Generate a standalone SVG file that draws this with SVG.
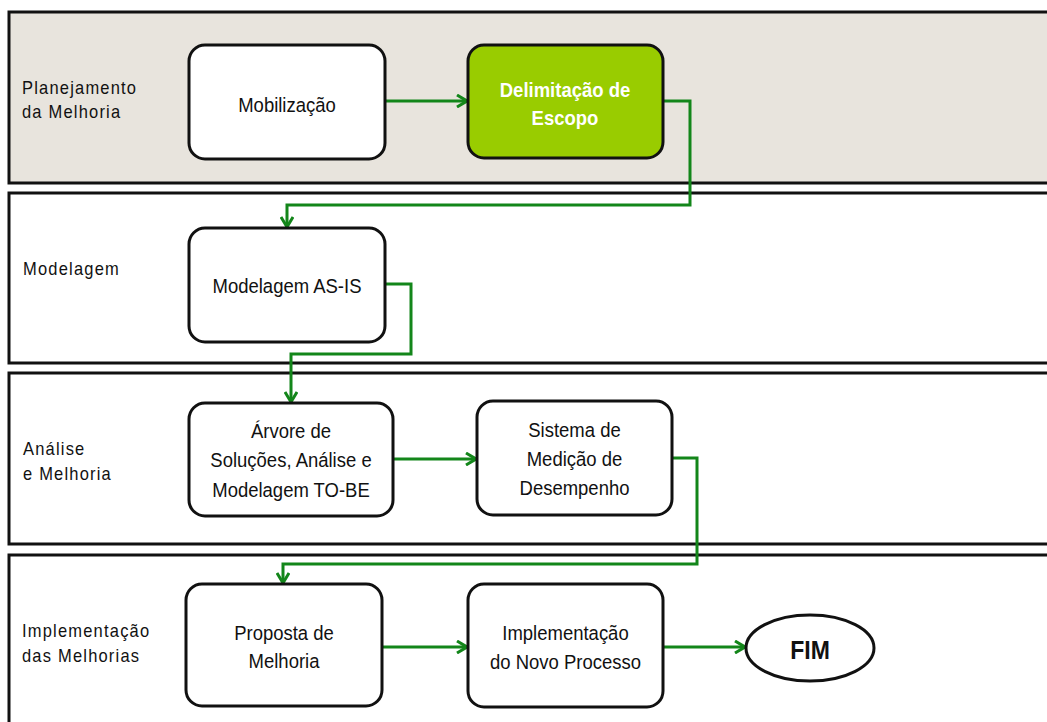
<svg xmlns="http://www.w3.org/2000/svg" width="1047" height="722" viewBox="0 0 1047 722">
<style>
.lane{stroke:#111;stroke-width:3}
.lbl{font-family:"Liberation Sans",Arial,sans-serif;font-size:16.5px;letter-spacing:1.2px;fill:#111}
.node{fill:#fff;stroke:#111;stroke-width:3}
.nt{font-family:"Liberation Sans",Arial,sans-serif;font-size:18.5px;fill:#111;text-anchor:middle}
.conn{fill:none;stroke:#13861a;stroke-width:3;marker-end:url(#arr)}
</style>
<defs>
<marker id="arr" viewBox="0 0 12 14" refX="11" refY="7" markerWidth="12" markerHeight="14" markerUnits="userSpaceOnUse" orient="auto">
<path d="M1,1 L11,7 L1,13" fill="none" stroke="#13861a" stroke-width="3"/>
</marker>
</defs>
<rect width="1047" height="722" fill="#fff"/>
<g id="lanes">
<g id="lane1"><rect class="lane" x="9" y="12" width="1050" height="171" fill="#e8e4dd"/>
<text class="lbl" transform="translate(22,94) scale(1,1.15)">Planejamento</text>
<text class="lbl" transform="translate(22,118) scale(1,1.15)">da Melhoria</text></g>
<g id="lane2"><rect class="lane" x="9" y="193" width="1050" height="170" fill="#fff"/>
<text class="lbl" transform="translate(23,275) scale(1,1.15)">Modelagem</text></g>
<g id="lane3"><rect class="lane" x="9" y="373" width="1050" height="171" fill="#fff"/>
<text class="lbl" transform="translate(23,455) scale(1,1.15)">Análise</text>
<text class="lbl" transform="translate(23,480) scale(1,1.15)">e Melhoria</text></g>
<g id="lane4"><rect class="lane" x="9" y="555" width="1050" height="180" fill="#fff"/>
<text class="lbl" transform="translate(22,637) scale(1,1.15)">Implementação</text>
<text class="lbl" transform="translate(22,662) scale(1,1.15)">das Melhorias</text></g>
</g>
<g id="connectors">
<path class="conn" d="M385,101 H467"/>
<path class="conn" d="M663,101 H690 V205 H287 V227"/>
<path class="conn" d="M385,284 H411 V354 H291 V402"/>
<path class="conn" d="M393,459 H476"/>
<path class="conn" d="M672,458 H697 V564 H283 V583"/>
<path class="conn" d="M382,647 H467"/>
<path class="conn" d="M663,647 H745"/>
</g>
<g id="n-mobilizacao"><rect class="node" x="189" y="45" width="196" height="114" rx="16"/>
<text class="nt" transform="translate(287,112) scale(1,1.12)">Mobilização</text></g>
<g id="n-delimitacao"><rect class="node" x="468" y="45" width="195" height="113" rx="16" fill="#99cc00" style="fill:#99cc00"/>
<text class="nt" transform="translate(565,97) scale(1,1.12)" style="fill:#fff;font-weight:bold"><tspan x="0" y="0">Delimitação de</tspan><tspan x="0" y="25">Escopo</tspan></text></g>
<g id="n-asis"><rect class="node" x="189" y="228" width="196" height="114" rx="16"/>
<text class="nt" transform="translate(287,293) scale(1,1.12)">Modelagem AS-IS</text></g>
<g id="n-arvore"><rect class="node" x="189" y="403" width="204" height="113" rx="16"/>
<text class="nt" transform="translate(291,438) scale(1,1.12)"><tspan x="0" y="0">Árvore de</tspan><tspan x="0" y="26.3">Soluções, Análise e</tspan><tspan x="0" y="52.6">Modelagem TO-BE</tspan></text></g>
<g id="n-sistema"><rect class="node" x="477" y="401" width="195" height="114" rx="16"/>
<text class="nt" transform="translate(574.5,437) scale(1,1.12)"><tspan x="0" y="0">Sistema de</tspan><tspan x="0" y="26">Medição de</tspan><tspan x="0" y="51.8">Desempenho</tspan></text></g>
<g id="n-proposta"><rect class="node" x="186" y="584" width="196" height="122" rx="16"/>
<text class="nt" transform="translate(284,640) scale(1,1.12)"><tspan x="0" y="0">Proposta de</tspan><tspan x="0" y="25">Melhoria</tspan></text></g>
<g id="n-implementacao"><rect class="node" x="468" y="584" width="195" height="123" rx="16"/>
<text class="nt" transform="translate(565.5,640) scale(1,1.12)"><tspan x="0" y="0">Implementação</tspan><tspan x="0" y="25.9">do Novo Processo</tspan></text></g>
<g id="n-fim"><ellipse class="node" cx="810" cy="648" rx="64" ry="33"/>
<text class="nt" transform="translate(810,659) scale(1,1.15)" style="font-size:23px;font-weight:bold">FIM</text></g>
</svg>
